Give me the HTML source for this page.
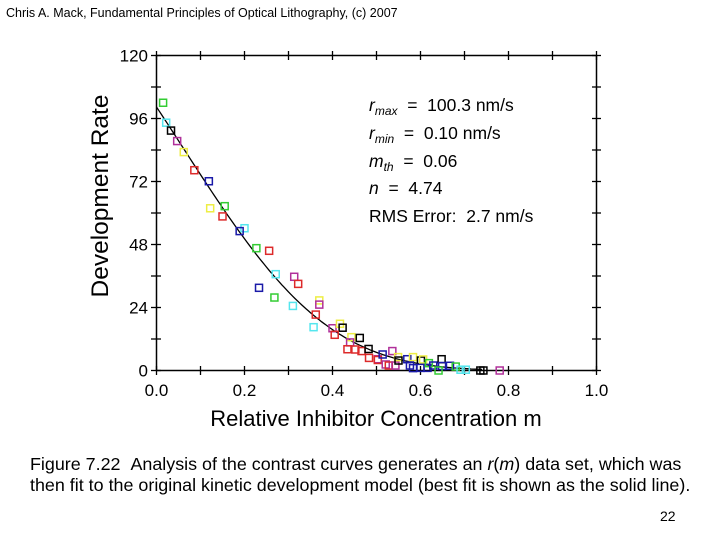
<!DOCTYPE html>
<html><head><meta charset="utf-8"><style>
body{margin:0;background:#fff;width:720px;height:540px;overflow:hidden;font-family:"Liberation Sans",sans-serif}
svg{position:absolute;left:0;top:0}
</style></head><body>
<svg width="720" height="540" id="svg">
<text x="6" y="17" font-size="12.5">Chris A. Mack, Fundamental Principles of Optical Lithography, (c) 2007</text>
<rect x="156.5" y="55.5" width="440" height="315" fill="none" stroke="#000" stroke-width="1.5"/>
<g id="ticks"></g>
<path id="fit" fill="none" stroke="#000" stroke-width="1.3"/>
<g id="pts"></g>
<text transform="translate(108,196) rotate(-90)" text-anchor="middle" font-size="24.5">Development Rate</text>
<text x="376" y="426" text-anchor="middle" font-size="22">Relative Inhibitor Concentration m</text>
<g font-size="17.5">
<text x="369" y="111"><tspan font-style="italic">r</tspan><tspan font-style="italic" font-size="12" dy="4">max</tspan><tspan dy="-4"> &#160;= &#160;100.3 nm/s</tspan></text>
<text x="369" y="139"><tspan font-style="italic">r</tspan><tspan font-style="italic" font-size="12" dy="4">min</tspan><tspan dy="-4"> &#160;= &#160;0.10 nm/s</tspan></text>
<text x="369" y="167"><tspan font-style="italic">m</tspan><tspan font-style="italic" font-size="12" dy="4">th</tspan><tspan dy="-4"> &#160;= &#160;0.06</tspan></text>
<text x="369" y="194"><tspan font-style="italic">n</tspan> &#160;= &#160;4.74</text>
<text x="369" y="222">RMS Error: &#160;2.7 nm/s</text>
</g>
<text x="30" y="470" font-size="17.9">Figure 7.22 &#160;Analysis of the contrast curves generates an <tspan font-style="italic">r</tspan>(<tspan font-style="italic">m</tspan>) data set, which was</text>
<text x="30" y="491" font-size="17.9">then fit to the original kinetic development model (best fit is shown as the solid line).</text>
<text x="660" y="521" font-size="14">22</text>
</svg>
<script>
const mVals=[.015,.022,.033,.047,.062,.086,.119,.122,.155,.15,.2,.189,.227,.256,.271,.313,.322,.233,.268,.31,.37,.37,.362,.357,.4,.417,.423,.405,.443,.462,.44,.434,.452,.466,.482,.483,.503,.503,.514,.536,.521,.528,.543,.549,.55,.57,.583,.576,.583,.601,.606,.6,.616,.619,.629,.648,.649,.667,.641,.68,.691,.703,.736,.743,.78];
const rVals=[102,94.4,91.4,87.4,83.2,76.3,72.1,61.8,62.6,58.7,54.2,53.1,46.6,45.6,36.7,35.7,33,31.5,27.8,24.6,26.7,25.1,21.3,16.5,16.1,17.8,16.3,13.6,12.7,12.4,10.7,8.1,8,7.4,8.2,4.8,4.3,4,6.1,7.4,2.3,1.9,1.9,5.1,3.8,4.3,5.1,1.9,0.9,3.8,4.2,1,1,2.8,1.9,4.3,1.7,1.8,0,1.5,0.3,0.3,0,0,0];
const colorKeys=['g','c','k','m','y','r','b','y','g','r','c','b','g','r','c','m','r','b','g','c','y','m','r','c','m','y','k','r','y','k','m','r','r','r','k','r','m','r','b','m','m','r','m','y','k','b','y','b','b','k','y','b','b','g','b','k','b','b','g','g','c','c','k','k','m'];
const xTickLabels=['0.0','0.2','0.4','0.6','0.8','1.0'];
const yTickLabels=['0','24','48','72','96','120'];
const fitParams={rmax:100.3,rmin:0.10,mth:0.06,n:4.74};
const pal={g:'#33cc33',c:'#55e6ee',k:'#000',m:'#b0309a',y:'#eeee44',r:'#dd2a2a',b:'#1a1aa8'};
const X=m=>156.5+m*440, Y=r=>370.5-r*315/120;
const NS='http://www.w3.org/2000/svg';
const svg=document.getElementById('svg'),tk=document.getElementById('ticks'),pts=document.getElementById('pts');
function mk(t,a,p){const e=document.createElementNS(NS,t);for(const k in a)e.setAttribute(k,a[k]);p.appendChild(e);return e;}
for(let i=0;i<=10;i++){const x=X(i/10);
 const l=mk('line',{x1:x,x2:x,y1:366,y2:375,stroke:'#000','stroke-width':1.3},tk);
 
 
 mk('line',{x1:x,x2:x,y1:51,y2:60,stroke:'#000','stroke-width':1.3},tk);}
xTickLabels.forEach(s=>{const t=mk('text',{x:X(parseFloat(s)),y:396,'text-anchor':'middle','font-size':17},svg);t.textContent=s;
 
 });
for(let i=0;i<=10;i++){const y=Y(i*12);
 mk('line',{x1:151,x2:161,y1:y,y2:y,stroke:'#000','stroke-width':1.3},tk);
 mk('line',{x1:592,x2:601,y1:y,y2:y,stroke:'#000','stroke-width':1.3},tk);}
yTickLabels.forEach(s=>{const t=mk('text',{x:148,y:Y(+s)+6,'text-anchor':'end','font-size':17},svg);t.textContent=s;
 
 });
const {rmax,rmin,mth,n}=fitParams;const a=(n+1)/(n-1)*Math.pow(1-mth,n);
let d='';for(let m=0;m<=0.745;m+=0.005){const q=Math.pow(1-m,n);const r=rmax*(a+1)*q/(a+q)+rmin;d+=(d?'L':'M')+X(m).toFixed(1)+','+Y(r).toFixed(1);}
document.getElementById('fit').setAttribute('d',d);
mVals.forEach((m,i)=>{const r=mk('rect',{x:X(m)-3.5,y:Y(rVals[i])-3.5,width:7,height:7,fill:'none',stroke:pal[colorKeys[i]],'stroke-width':1.5},pts);
 
 });
</script>
</body></html>
